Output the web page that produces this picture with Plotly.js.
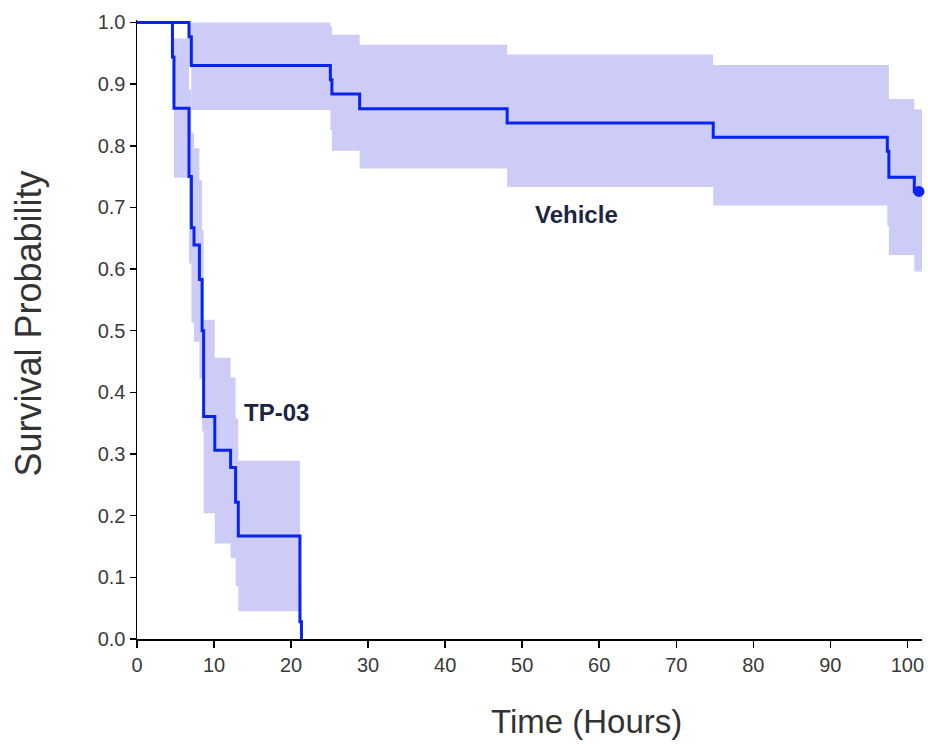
<!DOCTYPE html>
<html>
<head>
<meta charset="utf-8">
<script src="https://cdn.plot.ly/plotly-3.0.1.min.js"></script>
<style>html,body{margin:0;padding:0;background:#fff;}#chart{width:928px;height:748px;}</style>
</head>
<body>
<div id="chart"></div>
<script>
// Vehicle Kaplan-Meier curve
const vehTime = [0, 6.75, 7.05, 25.1, 25.3, 28.9, 48.05, 74.8, 97.4, 97.6, 100.9, 102.3];
const vehSurv = [1.0, 0.977, 0.930, 0.907, 0.884, 0.860, 0.837, 0.814, 0.791, 0.749, 0.726, 0.726];
// Vehicle confidence band
const vehBandTime = [6.75, 7.05, 25.1, 25.3, 28.9, 48.05, 74.8, 97.4, 97.6, 100.9, 102.3];
const vehUpper = [1.0, 1.0, 0.994, 0.980, 0.964, 0.948, 0.931, 0.931, 0.876, 0.859, 0.859];
const vehLower = [0.932, 0.858, 0.825, 0.792, 0.763, 0.733, 0.703, 0.670, 0.623, 0.596, 0.596];
// Vehicle censored marks at the end
const vehCensorTime = [101.5, 102.3];
const vehCensorSurv = [0.726, 0.726];

// TP-03 Kaplan-Meier curve
const tpTime = [0, 4.6, 4.8, 6.75, 7.06, 7.4, 8.1, 8.45, 8.65, 10.1, 12.15, 12.8, 13.15, 21.15, 21.35];
const tpSurv = [1.0, 0.944, 0.861, 0.750, 0.667, 0.639, 0.583, 0.500, 0.361, 0.306, 0.278, 0.222, 0.167, 0.028, 0.0];
// TP-03 confidence band
const tpBandTime = [4.6, 4.8, 6.75, 7.06, 7.4, 8.1, 8.45, 8.65, 10.1, 12.15, 12.8, 13.15, 21.15, 21.35];
const tpUpper = [1.0, 0.974, 0.891, 0.821, 0.796, 0.744, 0.663, 0.518, 0.456, 0.424, 0.358, 0.289, 0.082, 0.082];
const tpLower = [0.869, 0.748, 0.609, 0.513, 0.482, 0.422, 0.337, 0.204, 0.155, 0.131, 0.086, 0.045, 0.0, 0.0];

const xTicks = [0, 10, 20, 30, 40, 50, 60, 70, 80, 90, 100];
const yTicks = [0, 0.1, 0.2, 0.3, 0.4, 0.5, 0.6, 0.7, 0.8, 0.9, 1.0];

const lineColor = 'rgb(8,36,240)';
const bandColor = 'rgb(204,204,247)';

function band(t, lo, hi) {
  return [
    {x: t, y: lo, type: 'scatter', mode: 'lines', line: {width: 0, shape: 'hv'}, hoverinfo: 'skip', showlegend: false},
    {x: t, y: hi, type: 'scatter', mode: 'lines', line: {width: 0, shape: 'hv'}, fill: 'tonexty', fillcolor: bandColor, hoverinfo: 'skip', showlegend: false}
  ];
}

const traces = [
  ...band(vehBandTime, vehLower, vehUpper),
  ...band(tpBandTime, tpLower, tpUpper),
  {x: vehTime, y: vehSurv, type: 'scatter', mode: 'lines', line: {color: lineColor, width: 3, shape: 'hv'}, showlegend: false, name: 'Vehicle'},
  {x: tpTime, y: tpSurv, type: 'scatter', mode: 'lines', line: {color: lineColor, width: 3, shape: 'hv'}, showlegend: false, name: 'TP-03'},
  {x: vehCensorTime, y: vehCensorSurv, type: 'scatter', mode: 'markers', marker: {color: lineColor, size: 11}, cliponaxis: false, showlegend: false}
];

const tickFont = {family: 'Liberation Sans, Arial, sans-serif', size: 20, color: '#3a3a3a'};
const layout = {
  width: 928, height: 748,
  margin: {l: 137, r: 6, t: 20, b: 109},
  paper_bgcolor: '#fff', plot_bgcolor: '#fff',
  showlegend: false,
  xaxis: {
    range: [0, 101.9], tickvals: xTicks, ticks: 'outside', ticklen: 7, tickwidth: 1.5, tickcolor: '#000',
    showline: true, linecolor: '#000', linewidth: 1.5, showgrid: false, zeroline: false,
    tickfont: tickFont
  },
  yaxis: {
    range: [0, 1.004], tickvals: yTicks, tickformat: '.1f', ticks: 'outside', ticklen: 6, tickwidth: 1.5, tickcolor: '#000',
    showline: true, linecolor: '#000', linewidth: 1.5, showgrid: false, zeroline: false,
    tickfont: tickFont
  },
  annotations: [
    {text: 'Time (Hours)', xref: 'paper', yref: 'paper', x: 0.572, y: -0.134, xanchor: 'center', yanchor: 'middle', showarrow: false,
     font: {family: 'Liberation Sans, Arial, sans-serif', size: 33, color: '#333'}},
    {text: 'Survival Probability', xref: 'paper', yref: 'paper', x: -0.138, y: 0.509, xanchor: 'center', yanchor: 'middle', textangle: -90, showarrow: false,
     font: {family: 'Liberation Sans, Arial, sans-serif', size: 36, color: '#333'}},
    {text: '<b>Vehicle</b>', x: 57.0, y: 0.688, xref: 'x', yref: 'y', xanchor: 'center', yanchor: 'middle', showarrow: false,
     font: {family: 'Liberation Sans, Arial, sans-serif', size: 24, color: '#1c2541'}},
    {text: '<b>TP-03</b>', x: 18.1, y: 0.368, xref: 'x', yref: 'y', xanchor: 'center', yanchor: 'middle', showarrow: false,
     font: {family: 'Liberation Sans, Arial, sans-serif', size: 24, color: '#1c2541'}}
  ]
};

Plotly.newPlot('chart', traces, layout, {displayModeBar: false, staticPlot: true});
</script>
</body>
</html>
